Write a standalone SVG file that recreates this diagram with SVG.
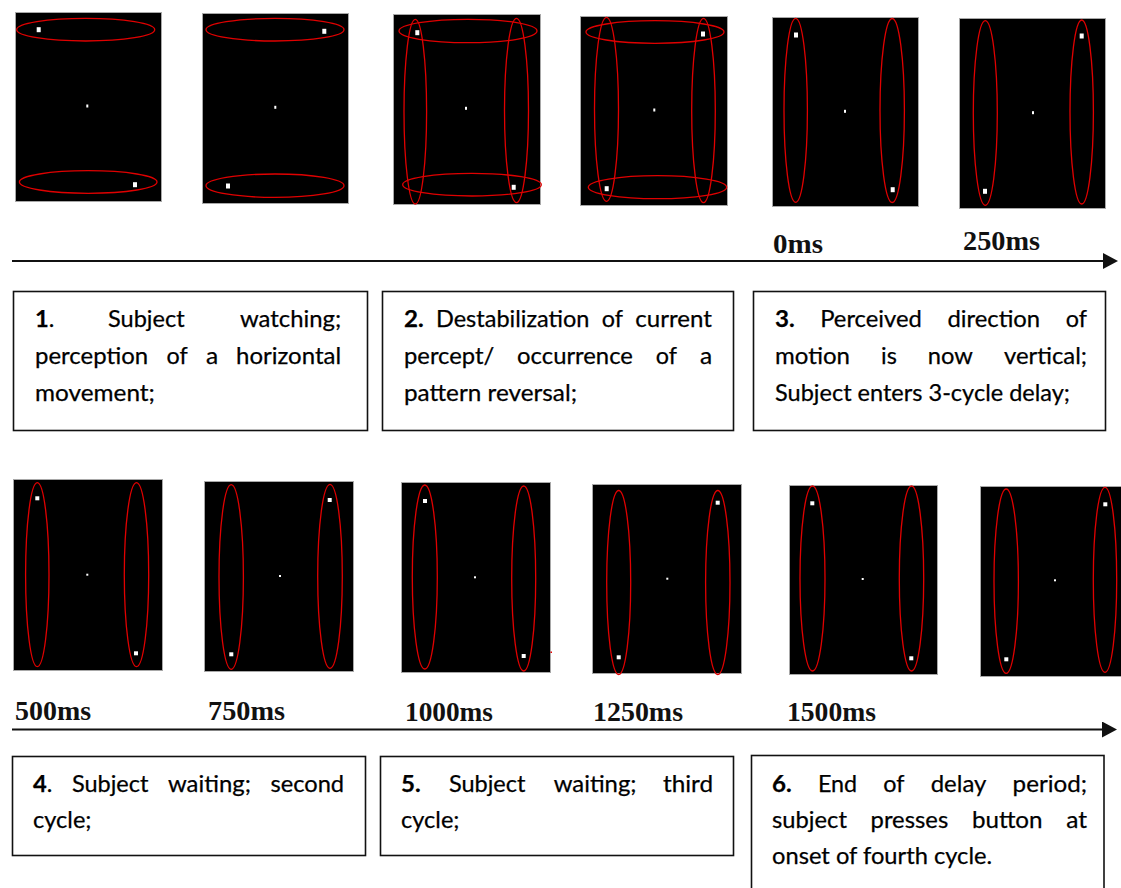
<svg xmlns="http://www.w3.org/2000/svg" width="1121" height="888" viewBox="0 0 1121 888">
  <defs>
    <style>
      .screen { fill: #000; stroke: #a8a8a8; stroke-width: 1; }
      .path { fill: none; stroke: #e00000; stroke-width: 1.3; }
      .dot { fill: #fff; }
      .box { fill: #fff; stroke: #111; stroke-width: 1.6; }
      .txt { font-family: Lato, "Open Sans", sans-serif; font-size: 23.5px; fill: #000; stroke: #000; stroke-width: 0.25; }
      .txt rect { stroke: #111; stroke-width: 1.6; }
      .b { font-weight: bold; }
      .time { font-family: "Liberation Serif", "DejaVu Serif", serif; font-size: 27px; font-weight: bold; fill: #111; }
      .axis { stroke: #111; stroke-width: 2; fill: none; }
    </style>
    <marker id="head" viewBox="0 0 15 16" refX="2" refY="8" markerWidth="15" markerHeight="16" markerUnits="userSpaceOnUse" orient="auto">
      <path d="M0,0 L15,8 L0,16 z" fill="#111"/>
    </marker>
  </defs>
  <rect width="1121" height="888" fill="#fff"/>

  <!-- stimulus frames, top row -->
  <g id="frame-1">
    <rect class="screen" x="15.5" y="12.5" width="146" height="189"/>
    <ellipse class="path" cx="85.7" cy="29.7" rx="69" ry="11.3"/>
    <ellipse class="path" cx="88.2" cy="182" rx="68.8" ry="11.3"/>
    <rect class="dot" x="36.7" y="27.2" width="4" height="5"/>
    <rect class="dot" x="133" y="182.2" width="4" height="5"/>
    <rect class="dot" x="86.3" y="104.5" width="2" height="3"/>
  </g>
  <g id="frame-2">
    <rect class="screen" x="202.5" y="13.5" width="146" height="190"/>
    <ellipse class="path" cx="275" cy="29.7" rx="69" ry="11.3"/>
    <ellipse class="path" cx="275" cy="185.7" rx="69" ry="11.7"/>
    <rect class="dot" x="322.3" y="28.8" width="4" height="5"/>
    <rect class="dot" x="226" y="183.5" width="4" height="5"/>
    <rect class="dot" x="274.3" y="105.8" width="2" height="3"/>
  </g>
  <g id="frame-3">
    <rect class="screen" x="393.5" y="14.5" width="147" height="190"/>
    <ellipse class="path" cx="468" cy="31" rx="69" ry="11.7"/>
    <ellipse class="path" cx="472" cy="184.7" rx="69.3" ry="11.3"/>
    <ellipse class="path" cx="415.3" cy="111.7" rx="11.3" ry="92.3"/>
    <ellipse class="path" cx="516.5" cy="110.5" rx="12" ry="92.2"/>
    <rect class="dot" x="415.3" y="30.2" width="4" height="5"/>
    <rect class="dot" x="511.7" y="184.8" width="4" height="5"/>
    <rect class="dot" x="465" y="106.8" width="2" height="3"/>
  </g>
  <g id="frame-4">
    <rect class="screen" x="580.5" y="16.5" width="147" height="189"/>
    <ellipse class="path" cx="655" cy="32" rx="69" ry="11.3"/>
    <ellipse class="path" cx="657.5" cy="187.2" rx="69.2" ry="11.5"/>
    <ellipse class="path" cx="606.5" cy="109.3" rx="12" ry="92"/>
    <ellipse class="path" cx="703.5" cy="110.5" rx="11.8" ry="92.2"/>
    <rect class="dot" x="701" y="31.5" width="4" height="5"/>
    <rect class="dot" x="604.7" y="186.2" width="4" height="5"/>
    <rect class="dot" x="653.3" y="108.5" width="2" height="3"/>
  </g>
  <g id="frame-5">
    <rect class="screen" x="772.5" y="17.5" width="146" height="189"/>
    <ellipse class="path" cx="795.7" cy="110.3" rx="11.7" ry="92"/>
    <ellipse class="path" cx="892.2" cy="110.5" rx="12.2" ry="92"/>
    <rect class="dot" x="794" y="32.5" width="4" height="5"/>
    <rect class="dot" x="890.7" y="187.2" width="4" height="5"/>
    <rect class="dot" x="844" y="109.8" width="2" height="3"/>
  </g>
  <g id="frame-6">
    <rect class="screen" x="959.5" y="18.5" width="146" height="190"/>
    <ellipse class="path" cx="985.3" cy="113" rx="12" ry="92.3"/>
    <ellipse class="path" cx="1081.7" cy="112" rx="11.7" ry="92"/>
    <rect class="dot" x="983" y="188.8" width="4" height="5"/>
    <rect class="dot" x="1079.7" y="33.5" width="4" height="5"/>
    <rect class="dot" x="1032" y="111.2" width="2" height="3"/>
  </g>

  <!-- stimulus frames, bottom row -->
  <g id="frame-7">
    <rect class="screen" x="13.5" y="479.5" width="149" height="191"/>
    <ellipse class="path" cx="37.3" cy="574.7" rx="11.7" ry="92"/>
    <ellipse class="path" cx="136.5" cy="574.7" rx="12.2" ry="92"/>
    <rect class="dot" x="35.3" y="496.3" width="4" height="4"/>
    <rect class="dot" x="134" y="651.3" width="4" height="4"/>
    <rect class="dot" x="86.3" y="573.7" width="2" height="2"/>
  </g>
  <g id="frame-8">
    <rect class="screen" x="204.5" y="481.5" width="149" height="190"/>
    <ellipse class="path" cx="231.2" cy="577" rx="12.2" ry="92.3"/>
    <ellipse class="path" cx="330" cy="576.3" rx="12.3" ry="92"/>
    <rect class="dot" x="229.3" y="652.3" width="4" height="4"/>
    <rect class="dot" x="327.7" y="498" width="4" height="4"/>
    <rect class="dot" x="279" y="575" width="2" height="2"/>
  </g>
  <g id="frame-9">
    <rect class="screen" x="401.5" y="482.5" width="149" height="190"/>
    <ellipse class="path" cx="424.8" cy="577" rx="12.5" ry="92"/>
    <ellipse class="path" cx="523.7" cy="578.5" rx="12" ry="92.5"/>
    <rect class="dot" x="423" y="499" width="4" height="4"/>
    <rect class="dot" x="521.7" y="654" width="4" height="4"/>
    <rect class="dot" x="474" y="576.3" width="2" height="2"/>
    <rect x="550.5" y="651.5" width="1.5" height="1.5" fill="#e00000"/>
  </g>
  <g id="frame-10">
    <rect class="screen" x="592.5" y="484.5" width="149" height="189"/>
    <ellipse class="path" cx="618.7" cy="582.5" rx="12" ry="92"/>
    <ellipse class="path" cx="717.8" cy="582.5" rx="12.2" ry="92"/>
    <rect class="dot" x="616.7" y="655.3" width="4" height="4"/>
    <rect class="dot" x="715.7" y="500.7" width="4" height="4"/>
    <rect class="dot" x="666.3" y="577.7" width="2" height="2"/>
  </g>
  <g id="frame-11">
    <rect class="screen" x="789.5" y="485.5" width="148" height="189"/>
    <ellipse class="path" cx="812.5" cy="578.5" rx="12.5" ry="92.5"/>
    <ellipse class="path" cx="911.5" cy="578.5" rx="12.2" ry="92.5"/>
    <rect class="dot" x="810.3" y="501.3" width="4" height="4"/>
    <rect class="dot" x="909.3" y="656.3" width="4" height="4"/>
    <rect class="dot" x="861.7" y="578" width="2" height="2"/>
  </g>
  <g id="frame-12">
    <rect class="screen" x="980.5" y="486.5" width="150" height="190"/>
    <ellipse class="path" cx="1006.2" cy="581.2" rx="12.2" ry="92.2"/>
    <ellipse class="path" cx="1105" cy="579.8" rx="11.7" ry="92.5"/>
    <rect class="dot" x="1004.3" y="657.3" width="4" height="4"/>
    <rect class="dot" x="1103.3" y="502.3" width="4" height="4"/>
    <rect class="dot" x="1054" y="579.3" width="2" height="2"/>
  </g>

  <!-- time axes -->
  <g id="connectors">
    <line class="axis" x1="12" y1="261" x2="1105" y2="261" marker-end="url(#head)"/>
    <line class="axis" x1="12" y1="729.5" x2="1104" y2="729.5" marker-end="url(#head)"/>
  </g>

  <!-- time stamps -->
  <g id="timestamps">
    <text class="time" x="773" y="253" textLength="50" lengthAdjust="spacingAndGlyphs">0ms</text>
    <text class="time" x="963" y="250" textLength="77" lengthAdjust="spacingAndGlyphs">250ms</text>
    <text class="time" x="15" y="720" textLength="76" lengthAdjust="spacingAndGlyphs">500ms</text>
    <text class="time" x="208" y="720" textLength="77" lengthAdjust="spacingAndGlyphs">750ms</text>
    <text class="time" x="405" y="721" textLength="88" lengthAdjust="spacingAndGlyphs">1000ms</text>
    <text class="time" x="593" y="721" textLength="90" lengthAdjust="spacingAndGlyphs">1250ms</text>
    <text class="time" x="787" y="721" textLength="89" lengthAdjust="spacingAndGlyphs">1500ms</text>
  </g>

  <!-- step descriptions -->
  <g id="step-1" class="txt">
    <rect class="box" x="13.5" y="291.5" width="354" height="139"/>
    <text x="35" y="327" textLength="19.4" lengthAdjust="spacingAndGlyphs"><tspan class="b">1</tspan>.</text>
    <text x="108" y="327" textLength="76.6" lengthAdjust="spacingAndGlyphs">Subject</text>
    <text x="240" y="327" textLength="101.2" lengthAdjust="spacingAndGlyphs">watching;</text>
    <text x="35" y="364" textLength="113.1" lengthAdjust="spacingAndGlyphs">perception</text>
    <text x="166.5" y="364" textLength="21.2" lengthAdjust="spacingAndGlyphs">of</text>
    <text x="206" y="364" textLength="12.2" lengthAdjust="spacingAndGlyphs">a</text>
    <text x="236" y="364" textLength="105.1" lengthAdjust="spacingAndGlyphs">horizontal</text>
    <text x="35" y="401" textLength="119.9" lengthAdjust="spacingAndGlyphs">movement;</text>
  </g>
  <g id="step-2" class="txt">
    <rect class="box" x="382.5" y="291.5" width="351" height="139"/>
    <text x="404" y="327" textLength="19.7" lengthAdjust="spacingAndGlyphs" class="b">2.</text>
    <text x="436" y="327" textLength="153.5" lengthAdjust="spacingAndGlyphs">Destabilization</text>
    <text x="601.8" y="327" textLength="21.2" lengthAdjust="spacingAndGlyphs">of</text>
    <text x="635.3" y="327" textLength="76.6" lengthAdjust="spacingAndGlyphs">current</text>
    <text x="404" y="364" textLength="90.2" lengthAdjust="spacingAndGlyphs">percept/</text>
    <text x="517.1" y="364" textLength="115.8" lengthAdjust="spacingAndGlyphs">occurrence</text>
    <text x="655.8" y="364" textLength="21.2" lengthAdjust="spacingAndGlyphs">of</text>
    <text x="699.9" y="364" textLength="12.2" lengthAdjust="spacingAndGlyphs">a</text>
    <text x="404" y="401" textLength="173" lengthAdjust="spacingAndGlyphs">pattern reversal;</text>
  </g>
  <g id="step-3" class="txt">
    <rect class="box" x="753.5" y="291.5" width="352" height="139"/>
    <text x="775" y="327" textLength="19.7" lengthAdjust="spacingAndGlyphs" class="b">3.</text>
    <text x="820.2" y="327" textLength="101.7" lengthAdjust="spacingAndGlyphs">Perceived</text>
    <text x="947.4" y="327" textLength="92.8" lengthAdjust="spacingAndGlyphs">direction</text>
    <text x="1065.7" y="327" textLength="21.2" lengthAdjust="spacingAndGlyphs">of</text>
    <text x="775" y="364" textLength="75" lengthAdjust="spacingAndGlyphs">motion</text>
    <text x="881" y="364" textLength="15.8" lengthAdjust="spacingAndGlyphs">is</text>
    <text x="927.8" y="364" textLength="45.1" lengthAdjust="spacingAndGlyphs">now</text>
    <text x="1003.9" y="364" textLength="83.2" lengthAdjust="spacingAndGlyphs">vertical;</text>
    <text x="775" y="401" textLength="295" lengthAdjust="spacingAndGlyphs">Subject enters 3-cycle delay;</text>
  </g>
  <g id="step-4" class="txt">
    <rect class="box" x="12.5" y="756.5" width="353" height="99"/>
    <text x="33" y="792" textLength="19.4" lengthAdjust="spacingAndGlyphs"><tspan class="b">4</tspan>.</text>
    <text x="71.9" y="792" textLength="76.6" lengthAdjust="spacingAndGlyphs">Subject</text>
    <text x="168" y="792" textLength="82.9" lengthAdjust="spacingAndGlyphs">waiting;</text>
    <text x="270.4" y="792" textLength="73.7" lengthAdjust="spacingAndGlyphs">second</text>
    <text x="33" y="828" textLength="58.5" lengthAdjust="spacingAndGlyphs">cycle;</text>
  </g>
  <g id="step-5" class="txt">
    <rect class="box" x="380.5" y="756.5" width="353" height="99"/>
    <text x="401" y="792" textLength="19.7" lengthAdjust="spacingAndGlyphs" class="b">5.</text>
    <text x="448.9" y="792" textLength="76.6" lengthAdjust="spacingAndGlyphs">Subject</text>
    <text x="553.7" y="792" textLength="82.9" lengthAdjust="spacingAndGlyphs">waiting;</text>
    <text x="663" y="792" textLength="50.1" lengthAdjust="spacingAndGlyphs">third</text>
    <text x="401" y="828" textLength="58.5" lengthAdjust="spacingAndGlyphs">cycle;</text>
  </g>
  <g id="step-6" class="txt">
    <rect class="box" x="751.5" y="755.5" width="352.5" height="200"/>
    <text x="772" y="792" textLength="19.7" lengthAdjust="spacingAndGlyphs" class="b">6.</text>
    <text x="817.9" y="792" textLength="39.2" lengthAdjust="spacingAndGlyphs">End</text>
    <text x="883.3" y="792" textLength="21.2" lengthAdjust="spacingAndGlyphs">of</text>
    <text x="930.7" y="792" textLength="55.7" lengthAdjust="spacingAndGlyphs">delay</text>
    <text x="1012.6" y="792" textLength="74.5" lengthAdjust="spacingAndGlyphs">period;</text>
    <text x="772" y="828" textLength="74.9" lengthAdjust="spacingAndGlyphs">subject</text>
    <text x="870.6" y="828" textLength="77.6" lengthAdjust="spacingAndGlyphs">presses</text>
    <text x="971.9" y="828" textLength="70.7" lengthAdjust="spacingAndGlyphs">button</text>
    <text x="1066.3" y="828" textLength="20.8" lengthAdjust="spacingAndGlyphs">at</text>
    <text x="772" y="864" textLength="220.1" lengthAdjust="spacingAndGlyphs">onset of fourth cycle.</text>
  </g>
</svg>
